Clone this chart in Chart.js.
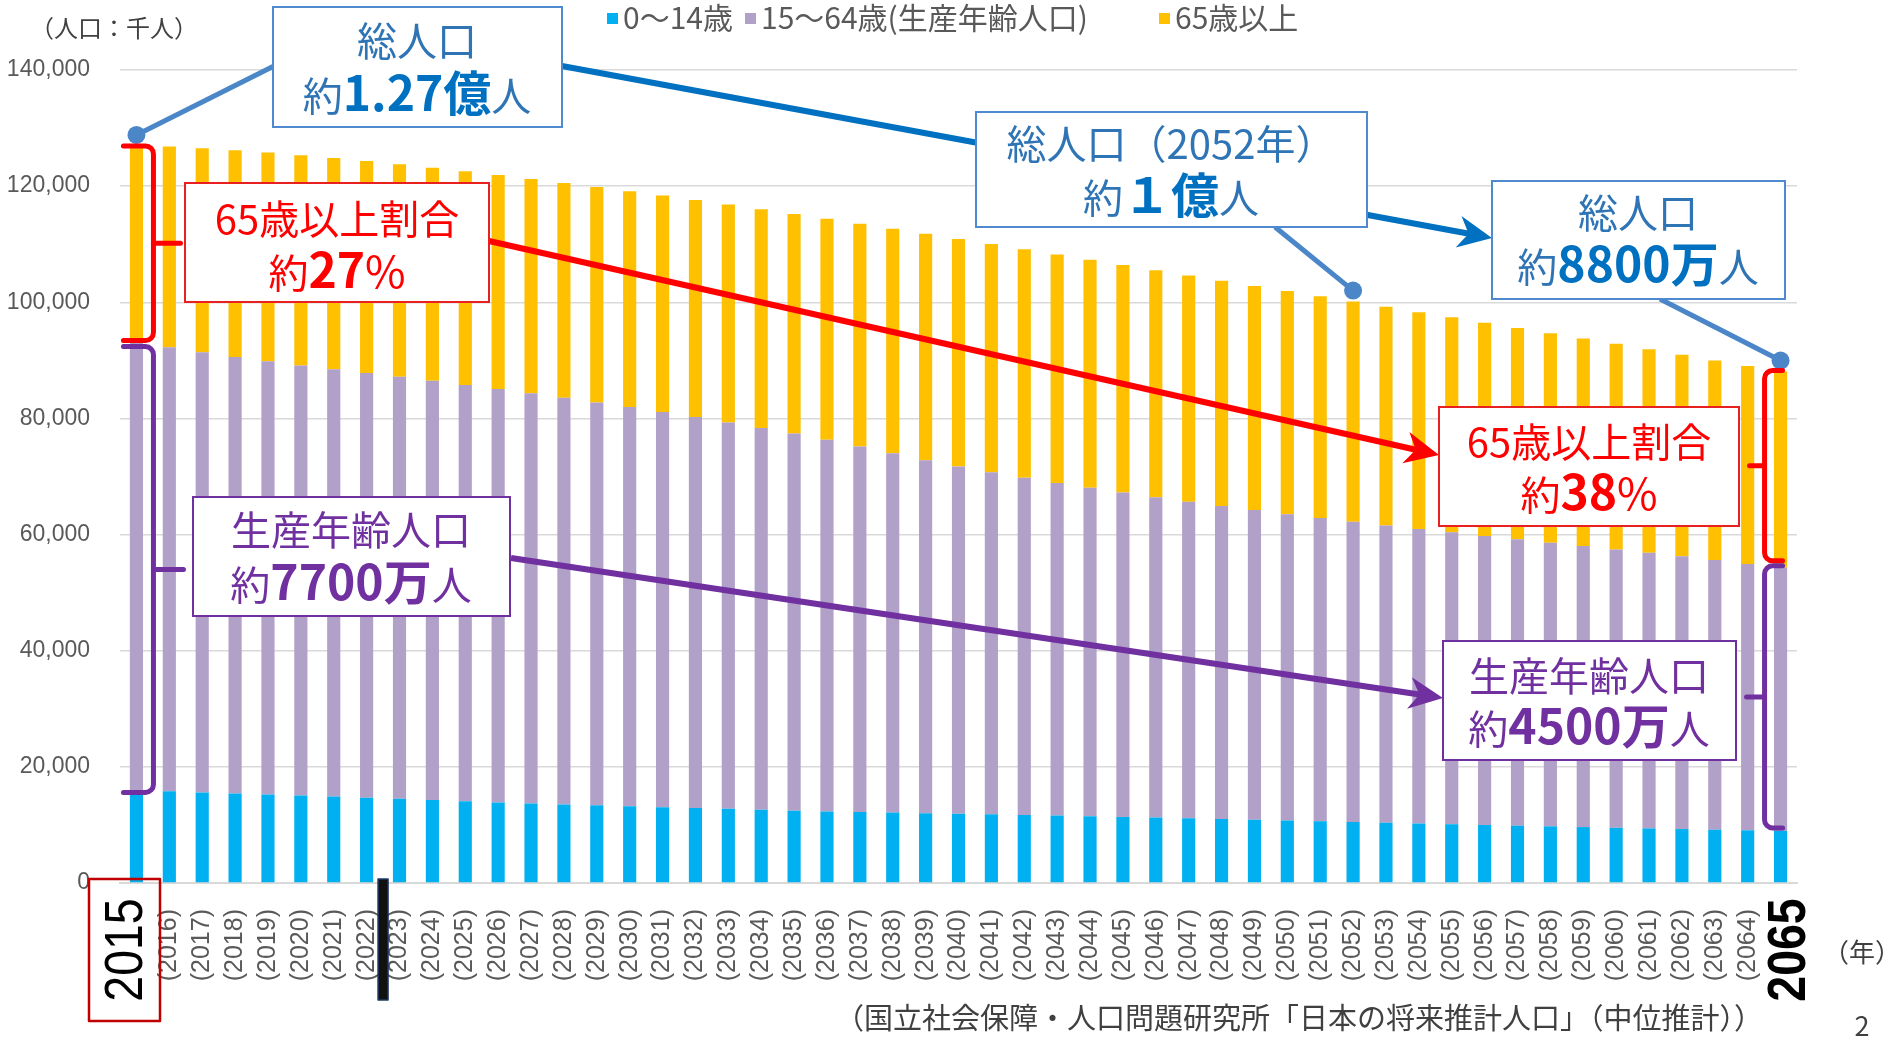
<!DOCTYPE html>
<html lang="ja">
<head>
<meta charset="utf-8">
<title>日本の将来推計人口</title>
<script src="https://cdn.jsdelivr.net/npm/chart.js@4.4.1/dist/chart.umd.min.js"></script>
<style>
  html, body { margin: 0; padding: 0; background: #fff; }
  canvas { display: block; }
</style>
</head>
<body>
<canvas id="chart" width="1893" height="1038"></canvas>
<script>
// data (千人), 国立社会保障・人口問題研究所「日本の将来推計人口」中位推計
const years = [2015, 2016, 2017, 2018, 2019, 2020, 2021, 2022, 2023, 2024,
  2025, 2026, 2027, 2028, 2029, 2030, 2031, 2032, 2033, 2034,
  2035, 2036, 2037, 2038, 2039, 2040, 2041, 2042, 2043, 2044,
  2045, 2046, 2047, 2048, 2049, 2050, 2051, 2052, 2053, 2054,
  2055, 2056, 2057, 2058, 2059, 2060, 2061, 2062, 2063, 2064, 2065];

const age0to14 = [15945, 15780, 15590, 15420, 15240, 15075, 14880, 14700, 14520, 14300,
  14073, 13870, 13700, 13530, 13370, 13212, 13060, 12920, 12790, 12620,
  12457, 12330, 12220, 12120, 12030, 11936, 11830, 11730, 11620, 11500,
  11384, 11260, 11140, 11020, 10890, 10767, 10640, 10510, 10380, 10250,
  10123, 9990, 9870, 9750, 9630, 9508, 9400, 9290, 9180, 9080, 8975];

const age15to64 = [77282, 76468, 75792, 75157, 74613, 74058, 73586, 73130, 72661, 72201,
  71701, 71193, 70620, 70015, 69390, 68754, 68060, 67316, 66523, 65753,
  64942, 63983, 62965, 61894, 60781, 59777, 58908, 58049, 57279, 56554,
  55845, 55179, 54530, 53911, 53322, 52750, 52201, 51677, 51170, 50691,
  50276, 49780, 49320, 48842, 48386, 47928, 47450, 46960, 46420, 45860, 45291];

const age65plus = [33868, 34590, 35150, 35600, 35920, 36192, 36370, 36480, 36570, 36660,
  36771, 36840, 36920, 37010, 37090, 37160, 37260, 37380, 37520, 37660,
  37817, 38070, 38350, 38660, 38990, 39206, 39290, 39352, 39330, 39270,
  39192, 39080, 38950, 38790, 38610, 38406, 38180, 37930, 37660, 37360,
  37042, 36710, 36380, 36070, 35740, 35403, 35050, 34700, 34380, 34090, 33810];

const seriesNames = ['0〜14歳', '15〜64歳(生産年齢人口)', '65歳以上'];
const seriesColors = ['#00b0f0', '#b1a0c7', '#ffc000'];
const yTickValues = [0, 20000, 40000, 60000, 80000, 100000, 120000, 140000];
const xTickLabels = years.map((y, i) => (i === 0 || i === years.length - 1) ? '' : '(' + y + ')');

const JP = "'Noto Sans CJK JP', 'Noto Sans CJK SC', sans-serif";
const BLUE = '#2f75b5', BLUE_B = '#0070c0', RED = '#ff0000', PURPLE = '#7030a0';

function rich(ctx, cx, cy, parts) {
  let w = 0, maxSize = 0;
  parts.forEach(p => {
    ctx.font = (p[2] ? '700 ' : '400 ') + p[1] + 'px ' + JP;
    p.w = ctx.measureText(p[0]).width;
    w += p.w;
    maxSize = Math.max(maxSize, p[1]);
  });
  let x = cx - w / 2;
  ctx.textAlign = 'left';
  ctx.textBaseline = 'alphabetic';
  parts.forEach(p => {
    ctx.font = (p[2] ? '700 ' : '400 ') + p[1] + 'px ' + JP;
    ctx.fillStyle = p[3];
    ctx.fillText(p[0], x, cy + maxSize * 0.36);
    x += p.w;
  });
}

function box(ctx, x, y, w, h, color) {
  ctx.fillStyle = '#fff';
  ctx.fillRect(x, y, w, h);
  ctx.strokeStyle = color;
  ctx.lineWidth = 2;
  ctx.strokeRect(x, y, w, h);
}

function arrow(ctx, x1, y1, x2, y2, color, lw) {
  const a = Math.atan2(y2 - y1, x2 - x1);
  const L = 34, W = 16;
  const ca = Math.cos(a), sa = Math.sin(a);
  ctx.strokeStyle = color;
  ctx.lineWidth = lw;
  ctx.lineCap = 'butt';
  ctx.beginPath();
  ctx.moveTo(x1, y1);
  ctx.lineTo(x2 - ca * L * 0.6, y2 - sa * L * 0.6);
  ctx.stroke();
  ctx.fillStyle = color;
  ctx.beginPath();
  ctx.moveTo(x2, y2);
  ctx.lineTo(x2 - ca * L - sa * W, y2 - sa * L + ca * W);
  ctx.lineTo(x2 - ca * L * 0.7, y2 - sa * L * 0.7);
  ctx.lineTo(x2 - ca * L + sa * W, y2 - sa * L - ca * W);
  ctx.closePath();
  ctx.fill();
}

// vertical brace: hooks point to hx side, middle tick points to tx side
function brace(ctx, x, y1, y2, hx, tx, color) {
  const r = 8, ym = (y1 + y2) / 2;
  ctx.strokeStyle = color;
  ctx.lineWidth = 5;
  ctx.lineCap = 'round';
  ctx.lineJoin = 'round';
  ctx.beginPath();
  ctx.moveTo(x + hx, y1);
  ctx.arcTo(x, y1, x, y1 + r, r);
  ctx.lineTo(x, y2 - r);
  ctx.arcTo(x, y2, x + hx, y2, r);
  ctx.lineTo(x + hx, y2);
  ctx.stroke();
  ctx.beginPath();
  ctx.moveTo(x, ym);
  ctx.lineTo(x + tx, ym);
  ctx.stroke();
}

function dot(ctx, x, y, color) {
  ctx.fillStyle = color;
  ctx.beginPath();
  ctx.arc(x, y, 9, 0, Math.PI * 2);
  ctx.fill();
}

function thinLine(ctx, x1, y1, x2, y2, color) {
  ctx.strokeStyle = color;
  ctx.lineWidth = 5;
  ctx.lineCap = 'butt';
  ctx.beginPath();
  ctx.moveTo(x1, y1);
  ctx.lineTo(x2, y2);
  ctx.stroke();
}

const overlay = {
  id: 'overlay',
  afterDraw(chart) {
    const { ctx, scales: { x, y } } = chart;
    const X = i => x.getPixelForValue(i);
    const Y = v => y.getPixelForValue(v);
    const last = years.length - 1;
    const i2052 = years.indexOf(2052);
    const tot = i => age0to14[i] + age15to64[i] + age65plus[i];
    const mid = i => age0to14[i] + age15to64[i];
    ctx.save();

    // legend
    const legendX = [607, 745, 1159];
    chart.data.datasets.forEach((ds, k) => {
      ctx.fillStyle = ds.backgroundColor;
      ctx.fillRect(legendX[k], 13, 11, 11);
      ctx.font = '400 30px ' + JP;
      ctx.fillStyle = '#595959';
      ctx.textAlign = 'left';
      ctx.textBaseline = 'middle';
      ctx.fillText(ds.label, legendX[k] + 16, 18);
    });

    // unit label
    ctx.font = '400 24px ' + JP;
    ctx.fillStyle = '#404040';
    ctx.textBaseline = 'middle';
    ctx.fillText('（人口：千人）', 30, 28);

    // arrows behind boxes
    arrow(ctx, 562, 66, 1492, 238, BLUE_B, 6);
    arrow(ctx, 489, 241, 1439, 455, RED, 6);
    arrow(ctx, 511, 558, 1443, 698, PURPLE, 6);

    // thin connectors and dots
    const dotC = '#4a86c8';
    const d0 = [X(0), Y(tot(0)) - 10];
    const d1 = [X(i2052), Y(tot(i2052)) - 11];
    const d2 = [X(last), Y(tot(last)) - 11];
    thinLine(ctx, d0[0], d0[1], 274, 66, dotC);
    thinLine(ctx, d1[0], d1[1], 1275, 227, dotC);
    thinLine(ctx, d2[0], d2[1], 1660, 299, dotC);
    dot(ctx, d0[0], d0[1], dotC);
    dot(ctx, d1[0], d1[1], dotC);
    dot(ctx, d2[0], d2[1], dotC);

    // boxes
    box(ctx, 273, 7, 289, 120, '#4f8ad0');
    rich(ctx, 417, 42, [['総人口', 40, false, BLUE]]);
    rich(ctx, 417, 94, [['約', 40, false, BLUE], ['1.27億', 48, true, BLUE_B], ['人', 40, false, BLUE]]);

    box(ctx, 976, 112, 391, 115, '#4f8ad0');
    rich(ctx, 1171, 145, [['総人口（2052年）', 40, false, BLUE]]);
    rich(ctx, 1171, 196, [['約', 40, false, BLUE], ['１億', 48, true, BLUE_B], ['人', 40, false, BLUE]]);

    box(ctx, 1492, 181, 293, 118, '#4f8ad0');
    rich(ctx, 1638, 214, [['総人口', 40, false, BLUE]]);
    rich(ctx, 1638, 265, [['約', 40, false, BLUE], ['8800万', 48, true, BLUE_B], ['人', 40, false, BLUE]]);

    box(ctx, 185, 183, 304, 119, '#e82020');
    rich(ctx, 337, 220, [['65歳以上割合', 40, false, RED]]);
    rich(ctx, 337, 271, [['約', 40, false, RED], ['27', 48, true, RED], ['%', 44, false, RED]]);

    box(ctx, 1439, 407, 300, 119, '#e82020');
    rich(ctx, 1589, 443, [['65歳以上割合', 40, false, RED]]);
    rich(ctx, 1589, 493, [['約', 40, false, RED], ['38', 48, true, RED], ['%', 44, false, RED]]);

    box(ctx, 193, 497, 317, 119, PURPLE);
    rich(ctx, 351, 531, [['生産年齢人口', 40, false, PURPLE]]);
    rich(ctx, 351, 583, [['約', 40, false, PURPLE], ['7700万', 48, true, PURPLE], ['人', 40, false, PURPLE]]);

    box(ctx, 1443, 641, 293, 119, PURPLE);
    rich(ctx, 1589, 677, [['生産年齢人口', 40, false, PURPLE]]);
    rich(ctx, 1589, 727, [['約', 40, false, PURPLE], ['4500万', 48, true, PURPLE], ['人', 40, false, PURPLE]]);

    // braces
    const bl = X(0) + 17, br = X(last) - 16;
    brace(ctx, bl, Y(tot(0)) + 1, Y(mid(0)) - 1, -30, 27, RED);
    brace(ctx, bl, Y(mid(0)) + 5, Y(age0to14[0]) + 2, -30, 30, PURPLE);
    brace(ctx, br, Y(tot(last)) - 1, Y(mid(last)) - 7, 18, -15, RED);
    brace(ctx, br, Y(mid(last)) - 2, Y(age0to14[last]) - 3, 18, -18, PURPLE);

    // big years on the axis
    ctx.fillStyle = '#000';
    ctx.textAlign = 'center';
    ctx.textBaseline = 'middle';
    ctx.save();
    ctx.translate(X(0) - 11, 950);
    ctx.rotate(-Math.PI / 2);
    ctx.scale(0.86, 1);
    ctx.font = '400 54px "Liberation Sans", Arial, sans-serif';
    ctx.fillText(String(years[0]), 0, 2);
    ctx.restore();
    ctx.save();
    ctx.translate(X(last) + 8, 950);
    ctx.rotate(-Math.PI / 2);
    ctx.scale(0.86, 1);
    ctx.font = '700 54px "Liberation Sans", Arial, sans-serif';
    ctx.fillText(String(years[last]), 0, 2);
    ctx.restore();

    ctx.strokeStyle = '#c00000';
    ctx.lineWidth = 2.5;
    ctx.strokeRect(89, 879, 71, 142);

    // marker between 2022 and 2023
    const mx = (X(7) + X(8)) / 2;
    ctx.fillStyle = '#111';
    ctx.fillRect(mx - 5, 879, 10, 121);
    ctx.strokeStyle = '#1f3864';
    ctx.lineWidth = 1.5;
    ctx.strokeRect(mx - 5, 879, 10, 121);

    // footer texts
    ctx.fillStyle = '#404040';
    ctx.font = '400 26px ' + JP;
    ctx.textAlign = 'center';
    ctx.fillText('（年）', 1862, 952);
    ctx.font = '400 29px ' + JP;
    ctx.textAlign = 'left';
    ctx.fillText('（国立社会保障・人口問題研究所「日本の将来推計人口」（中位推計））', 835, 1018);
    ctx.font = '400 27px ' + JP;
    ctx.textAlign = 'center';
    ctx.fillText('2', 1862, 1026);

    ctx.restore();
  }
};

new Chart(document.getElementById('chart'), {
  type: 'bar',
  data: {
    labels: years.map(String),
    datasets: [
      { label: seriesNames[0], data: age0to14, backgroundColor: seriesColors[0] },
      { label: seriesNames[1], data: age15to64, backgroundColor: seriesColors[1] },
      { label: seriesNames[2], data: age65plus, backgroundColor: seriesColors[2] }
    ]
  },
  options: {
    responsive: false,
    animation: false,
    devicePixelRatio: 1,
    layout: { padding: { top: 70, right: 96, bottom: 0, left: 0 } },
    datasets: { bar: { barPercentage: 0.4, categoryPercentage: 1 } },
    plugins: { legend: { display: false }, tooltip: { enabled: false } },
    scales: {
      x: {
        stacked: true,
        grid: { display: false, drawTicks: false },
        border: { display: true, color: '#d9d9d9', width: 2 },
        ticks: {
          autoSkip: false, minRotation: 90, maxRotation: 90, padding: 26,
          color: '#595959', font: { family: '"Liberation Sans", Arial, sans-serif', size: 25 },
          callback: (v, i) => xTickLabels[i]
        },
        afterFit: s => { s.height = 155; }
      },
      y: {
        stacked: true, min: 0, max: 140000,
        afterBuildTicks: s => { s.ticks = yTickValues.map(v => ({ value: v })); },
        grid: { color: '#d9d9d9', lineWidth: 1.5, drawTicks: false },
        border: { display: false },
        ticks: {
          padding: 30, color: '#595959',
          font: { family: '"Liberation Sans", Arial, sans-serif', size: 23 },
          callback: v => v.toLocaleString('en-US')
        },
        afterFit: s => { s.width = 120; }
      }
    }
  },
  plugins: [overlay]
});
</script>
</body>
</html>
